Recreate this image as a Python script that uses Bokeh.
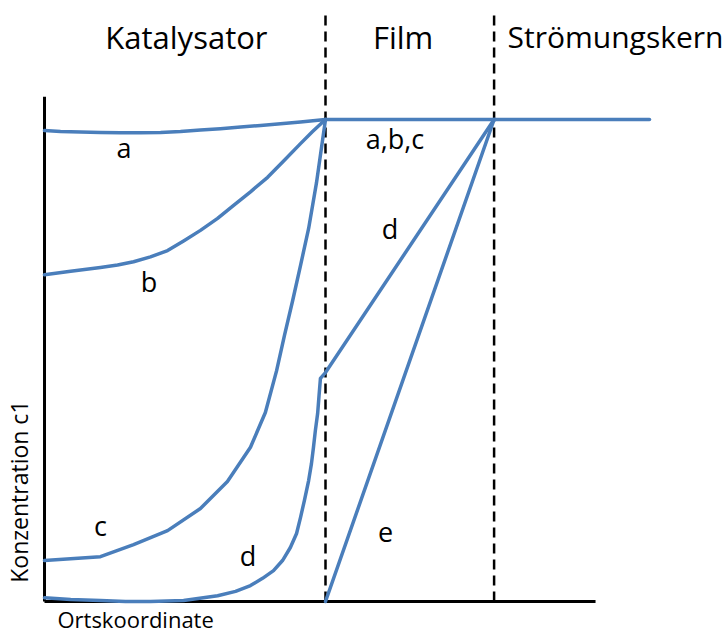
from bokeh.plotting import figure
from bokeh.models import Range1d, ColumnDataSource
from bokeh.core.properties import value
from bokeh.embed import file_html
from bokeh.resources import INLINE
import math

# Position along the pore / film (catalyst 0..100, film 100..160, bulk beyond)
# and concentration c1 in percent of the bulk value.
CAT_END = 100.0
FILM_END = 160.0
BULK_END = 215.3

a_x = [0, 5.7, 12.8, 19.9, 27.0, 34.2, 41.3, 48.4, 55.5, 62.6, 69.8, 76.9, 84.0, 91.1, 100]
a_y = [97.7, 97.5, 97.4, 97.3, 97.25, 97.25, 97.3, 97.5, 97.8, 98.1, 98.45, 98.75, 99.1, 99.5, 100]

b_x = [0, 9.3, 19.9, 26.0, 31.7, 37.7, 43.8, 49.5, 55.5, 61.6, 67.3, 73.3, 79.4, 85.1, 91.1, 95.4, 100]
b_y = [67.8, 68.5, 69.3, 69.8, 70.5, 71.5, 72.8, 74.8, 77.0, 79.5, 82.2, 85.0, 88.0, 91.4, 95.0, 97.5, 100]

c_x = [0, 19.9, 31.7, 43.8, 55.5, 65.1, 73.3, 78.6, 82.6, 85.4, 88.3, 91.1, 94.0, 96.8, 100]
c_y = [8.5, 9.3, 11.8, 14.7, 19.3, 24.9, 32.0, 39.2, 47.9, 55.2, 62.4, 69.7, 77.4, 86.9, 100]

d_x = [0, 9.3, 19.9, 28.8, 37.7, 49.5, 61.6, 68.0, 73.3, 77.6, 81.5, 84.7, 87.5, 89.7,
       91.1, 92.5, 94.0, 95.0, 95.7, 96.4, 97.2, 97.7, 98.2, 100, 160]
d_y = [0.8, 0.4, 0.2, 0.0, 0.0, 0.2, 1.2, 2.1, 3.3, 4.8, 6.4, 8.5, 11.2, 14.1,
       17.4, 21.0, 25.1, 28.6, 31.9, 35.5, 39.0, 42.7, 46.3, 47.5, 100]

e_x = [100, 160]
e_y = [0, 100]

bulk_x = [CAT_END, BULK_END]
bulk_y = [100, 100]

# Curve labels
lab_text = ["a", "b", "c", "d", "a,b,c", "d", "e"]
lab_x = [28.3, 37.2, 19.9, 72.4, 124.7, 123.0, 121.4]
lab_y = [94.2, 66.4, 15.8, 9.5, 96.1, 77.4, 14.5]

# Region headings
zone_text = ["Katalysator", "Film"]
zone_x = [50.5, 127.6]
zone_y = [117.2, 117.2]
kern_text = ["Strömungskern"]
kern_x = [164.8]
kern_y = [117.2]

BLUE = "#4A7EBB"
FONT = value("Open Sans")

p = figure(width=725, height=636, output_backend="svg", toolbar_location=None,
           x_range=Range1d(-15.66, 242.35), y_range=Range1d(-7.26, 124.69),
           x_axis_type=None, y_axis_type=None, min_border=0,
           outline_line_color=None, background_fill_color="white",
           border_fill_color="white")
p.grid.visible = False

# Axes drawn as an L shape
p.line([0, 0], [0, 104.7], line_color="black", line_width=3)
p.line([0, 196.1], [0, 0], line_color="black", line_width=3)

# Phase boundaries
for xb in (CAT_END, FILM_END):
    p.line([xb, xb], [0, 122.2], line_color="black", line_width=2.5,
           line_dash="10 6")

# Concentration profiles
for xs, ys in ((a_x, a_y), (b_x, b_y), (c_x, c_y), (d_x, d_y), (e_x, e_y),
               (bulk_x, bulk_y)):
    p.line(xs, ys, line_color=BLUE, line_width=3.5, line_join="round",
           line_cap="round")

p.text(x="x", y="y", text="t",
       source=ColumnDataSource(dict(x=lab_x, y=lab_y, t=lab_text)),
       text_font=FONT, text_font_size="27px", text_color="black",
       text_align="center", text_baseline="alphabetic")

p.text(x="x", y="y", text="t",
       source=ColumnDataSource(dict(x=zone_x, y=zone_y, t=zone_text)),
       text_font=FONT, text_font_size="31px", text_color="black",
       text_align="center", text_baseline="alphabetic")
p.text(x="x", y="y", text="t",
       source=ColumnDataSource(dict(x=kern_x, y=kern_y, t=kern_text)),
       text_font=FONT, text_font_size="30px", text_color="black",
       text_align="left", text_baseline="alphabetic")

# Axis titles
p.text(x=[4.6], y=[-3.7], text=["Ortskoordinate"], text_font=FONT,
       text_font_size="22px", text_color="black", text_align="left",
       text_baseline="alphabetic")
p.text(x=[-9.2], y=[22.8], text=["Konzentration c1"], text_font=FONT,
       text_font_size="23px", text_color="black", text_align="center",
       text_baseline="alphabetic", angle=math.pi / 2)

open("out.html", "w").write(file_html(p, INLINE))
